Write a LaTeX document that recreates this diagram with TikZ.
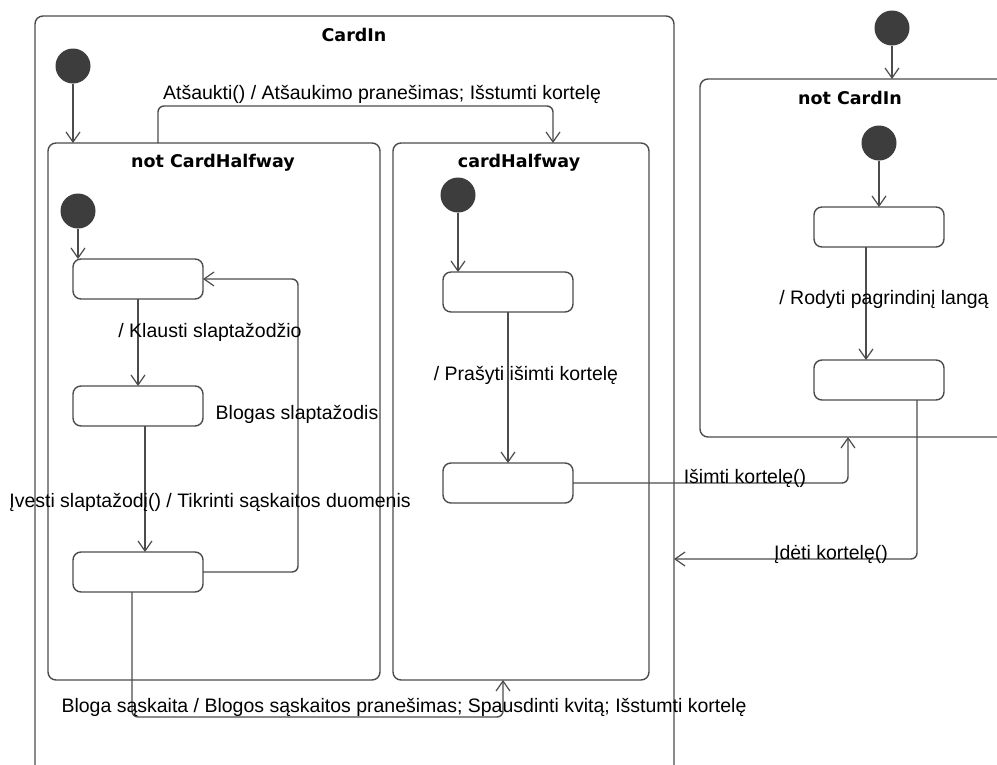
\documentclass[tikz,border=0pt]{standalone}
\usepackage{fontspec}
\setmainfont{Liberation Sans}
\newfontfamily\titlefont{DejaVu Sans}
\usetikzlibrary{arrows.meta}

\begin{document}
\begin{tikzpicture}[x=1pt,y=-1pt,
  wire/.style={draw=black!70, line width=1.4pt},
  box/.style={wire, rounded corners=8pt, inner sep=0pt, outer sep=0pt, anchor=north west},
  statebox/.style={box, minimum width=130pt, minimum height=40pt},
  init/.style={circle, fill=black!76, minimum size=35pt, inner sep=0pt, outer sep=0pt},
  tr/.style={wire, rounded corners=6pt, -{Straight Barb[length=10pt,width=14pt,line width=1.2pt]}},
  lbl/.style={font=\fontsize{19.5}{21}\selectfont, inner sep=0pt, anchor=base},
  ttl/.style={font=\titlefont\bfseries\fontsize{17.5}{19}\selectfont, inner sep=0pt, anchor=base},
]
\useasboundingbox (0,0) rectangle (997,764);
\fill[white] (0,0) rectangle (997,764);
\clip (0,0) rectangle (997,764);

% composite states
\node[box, minimum width=639pt, minimum height=780pt] (cardin) at (35,16) {};
\node[box, minimum width=332pt, minimum height=537pt] (notHalf) at (48,143) {};
\node[box, minimum width=256pt, minimum height=537pt] (half) at (393,143) {};
\node[box, minimum width=330pt, minimum height=358pt] (notin) at (700,79) {};

\node[ttl] (tCardIn) at (354,41) {CardIn};
\node[ttl] (tNotHalf) at (213,167) {not CardHalfway};
\node[ttl] (tHalf) at (519,167) {cardHalfway};
\node[ttl] (tNotIn) at (850,104) {not CardIn};

% simple states
\node[statebox] (s1) at (73,259) {};
\node[statebox] (s2) at (73,386) {};
\node[statebox] (s3) at (73,552) {};
\node[statebox] (c1) at (443,272) {};
\node[statebox] (c2) at (443,463) {};
\node[statebox] (n1) at (814,207) {};
\node[statebox] (n2) at (814,360) {};

% initial pseudostates
\node[init] (i0) at (73,66) {};
\node[init] (i1) at (78,211) {};
\node[init] (i2) at (458,195) {};
\node[init] (i3) at (892,28) {};
\node[init] (i4) at (879,143) {};

\coordinate (ideti) at ([yshift=-543pt]cardin.north east);

% transitions
\draw[tr] (i0) -- (i0 |- notHalf.north);
\draw[tr] (i1) -- (i1 |- s1.north);
\draw[tr] (i2) -- (i2 |- c1.north);
\draw[tr] (i3) -- (i3 |- notin.north);
\draw[tr] (i4) -- (n1.north);

\draw[tr] ([xshift=110pt]notHalf.north west) -- ++(0,-37) -| ([xshift=160pt]half.north west);
\draw[tr] (s1.south) -- (s2.north);
\draw[tr] ([xshift=7pt]s2.south) -- ([xshift=7pt]s3.north);
\draw[tr] (s3.east) -- ++(95,0) |- (s1.east);
\draw[tr] ([xshift=-6pt]s3.south) -- ++(0,125) -| ([xshift=110pt]half.south west);
\draw[tr] (c1.south) -- (c2.north);
\draw[tr] (c2.east) -| ([xshift=148pt]notin.south west);
\draw[tr] ([xshift=-13pt]n1.south) -- ([xshift=-13pt]n2.north);
\draw[tr] ([xshift=38pt]n2.south) |- (ideti);

% transition labels
\node[lbl] (lAts) at (382,99) {Atšaukti() / Atšaukimo pranešimas; Išstumti kortelę};
\node[lbl] (lKl) at (210,337) {/ Klausti slaptažodžio};
\node[lbl] (lBl) at (297,419) {Blogas slaptažodis};
\node[lbl] (lIv) at (210,507) {Įvesti slaptažodį() / Tikrinti sąskaitos duomenis};
\node[lbl] (lBad) at (404,712) {Bloga sąskaita / Blogos sąskaitos pranešimas; Spausdinti kvitą; Išstumti kortelę};
\node[lbl] (lPr) at (526,380) {/ Prašyti išimti kortelę};
\node[lbl] (lIs) at (745,483) {Išimti kortelę()};
\node[lbl] (lRo) at (884,304) {/ Rodyti pagrindinį langą};
\node[lbl] (lId) at (831,559) {Įdėti kortelę()};
\end{tikzpicture}
\end{document}
